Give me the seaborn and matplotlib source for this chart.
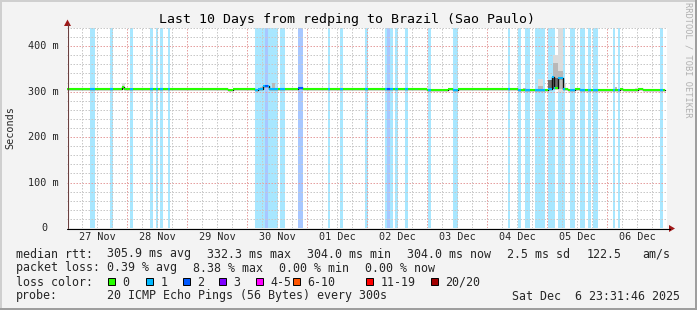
import matplotlib
matplotlib.use("Agg")
import matplotlib.pyplot as plt
import seaborn as sns
import pandas as pd
from matplotlib.patches import Rectangle, Polygon

W, H = 697, 310

# ---------------- data ----------------
title = "Last 10 Days from redping to Brazil (Sao Paulo)"
day_labels = ["27 Nov", "28 Nov", "29 Nov", "30 Nov", "01 Dec",
              "02 Dec", "03 Dec", "04 Dec", "05 Dec", "06 Dec"]
y_ticks_ms = [0, 100, 200, 300, 400]

# loss bands (hours since 27 Nov 00:00), pings lost out of 20
band_start = [9.2, 17.2, 25.2, 33.2, 35.6, 37.2, 40.4, 75.2, 79.2, 80.4, 85.2,
              92.4, 104.4, 109.2, 119.2, 127.2, 128.0, 129.2, 131.2, 135.2,
              144.4, 154.4, 176.4, 180.4, 183.2, 187.2, 192.4, 196.4, 201.2,
              205.2, 208.4, 210.4, 218.4, 220.4, 237.2]
band_end = [11.2, 18.4, 26.4, 34.4, 36.4, 38.4, 41.2, 79.2, 80.4, 84.4, 87.2,
            94.4, 105.2, 110.4, 120.4, 128.0, 129.2, 130.4, 132.4, 136.4,
            145.6, 156.4, 177.2, 181.6, 185.2, 191.2, 195.2, 199.2, 203.2,
            207.2, 209.6, 212.4, 219.2, 221.2, 238.4]
band_loss = [1, 1, 1, 1, 1, 1, 1, 1, 2, 1, 1,
             2, 1, 1, 1, 1, 2, 1, 1, 1,
             1, 1, 1, 1, 1, 1, 1, 1, 1,
             1, 1, 1, 1, 1, 1]

# median rtt steps (hour where step starts, value in ms)
med_start = [0.0, 22.0, 22.8, 64.4, 66.4, 75.2, 76.4, 78.4, 80.8, 92.4, 94.4,
             144.0, 152.4, 154.4, 156.4, 180.4, 192.4, 194.0, 194.8, 196.4,
             198.4, 200.4, 203.2, 205.2, 221.2, 222.4, 228.4, 230.4]
med_ms = [305.5, 311.0, 305.5, 303.6, 305.5, 303.6, 305.5, 311.5, 305.5, 307.0, 305.5,
          304.0, 305.5, 304.0, 305.5, 304.0, 306.0, 332.0, 308.0, 330.0,
          305.5, 304.0, 305.5, 304.0, 305.5, 304.0, 305.5, 304.0]
med_end = 239.2

# smoke (ping spread) blocks: start h, end h, low ms, high ms, density 1..3
smoke_start = [9.2, 13.2, 22.0, 25.2, 33.2, 41.2, 56.4, 73.2, 77.2, 82.0, 101.6,
               109.6, 182.4, 188.4, 188.4, 192.4, 194.4, 194.4, 194.4, 196.4,
               196.4, 198.4, 219.2, 227.2]
smoke_end = [11.2, 14.4, 23.2, 26.4, 34.4, 42.4, 58.4, 74.4, 78.4, 83.2, 102.8,
             110.4, 183.6, 190.4, 190.4, 194.0, 196.4, 196.4, 196.4, 198.4,
             198.4, 199.6, 220.0, 228.4]
smoke_lo = [305, 305, 305, 305, 305, 305, 305, 305, 305, 305, 305,
            305, 305, 305, 305, 305, 305, 305, 305, 300,
            305, 305, 305, 305]
smoke_hi = [309, 308, 318, 310, 309, 308, 309, 308, 310, 319, 308,
            313, 309, 328, 312, 325, 381, 363, 330, 440,
            345, 318, 310, 308]
smoke_dens = [2, 1, 1, 1, 1, 1, 1, 1, 2, 2, 1,
              1, 2, 1, 2, 3, 1, 2, 3, 1,
              2, 1, 2, 1]

loss_labels = ["0", "1", "2", "3", "4-5", "6-10", "11-19", "20/20"]
loss_colors = ["#26ff00", "#00b8ff", "#0059ff", "#7e00ff", "#ff00ff",
               "#ff5500", "#ff0000", "#a10000"]

stats_rtt = ["305.9 ms avg", "332.3 ms max", "304.0 ms min", "304.0 ms now",
             "2.5 ms sd", "122.5", "am/s"]
stats_loss = ["0.39 % avg", "8.38 % max", "0.00 % min", "0.00 % now"]
probe_text = "20 ICMP Echo Pings (56 Bytes) every 300s"
stamp = "Sat Dec  6 23:31:46 2025"

# ---------------- drawing ----------------
sns.set_theme(style="white")
plt.rcParams["font.family"] = ["DejaVu Sans Mono"]

fig = plt.figure(figsize=(W / 100, H / 100), dpi=100, facecolor="#f3f3f3")
X0, X1, YB, YT = 67, 667, 228, 28
ax = fig.add_axes([X0 / W, 1 - YB / H, (X1 - X0) / W, (YB - YT) / H])
ax.set_facecolor("white")
for s in ax.spines.values():
    s.set_visible(False)


def blend(hexc, a):
    r, g, b = (int(hexc[i:i + 2], 16) for i in (1, 3, 5))
    return ((255 - (255 - r) * a) / 255, (255 - (255 - g) * a) / 255,
            (255 - (255 - b) * a) / 255)


# loss bands
for s, e, l in zip(band_start, band_end, band_loss):
    ax.axvspan(s, e, color=blend(loss_colors[l], 0.34), lw=0, zorder=1)

# grid
px = 0.72
for v in range(20, 441, 20):
    major = v % 100 == 0
    ax.axhline(v, color="#e6a0a0" if major else "#c8c8c8", lw=px,
               ls=(0, (1.5, 1.5)), zorder=2)
for h in range(6, 240, 6):
    major = h % 24 == 0
    ax.axvline(h, color="#e6a0a0" if major else "#c8c8c8", lw=px,
               ls=(0, (1.5, 1.5)), zorder=2)

# smoke
shade = {1: "#dcdcdc", 2: "#b8b8b8", 3: "#707070"}
order = sorted(range(len(smoke_start)), key=lambda i: smoke_dens[i])
for i in order:
    ax.add_patch(Rectangle((smoke_start[i], smoke_lo[i]),
                           smoke_end[i] - smoke_start[i],
                           smoke_hi[i] - smoke_lo[i],
                           color=shade[smoke_dens[i]], lw=0, zorder=3))

# median: thin dark step line, then loss-coloured segments
df = pd.DataFrame({"h": med_start + [med_end], "ms": med_ms + [med_ms[-1]]})
sns.lineplot(data=df, x="h", y="ms", drawstyle="steps-post", color="#111111",
             lw=1.0, ax=ax, zorder=4, estimator=None, sort=False)


def median_at(t):
    v = med_ms[0]
    for s, m in zip(med_start, med_ms):
        if s <= t:
            v = m
    return v


def loss_at(t):
    for s, e, l in zip(band_start, band_end, band_loss):
        if s <= t < e:
            return l
    return 0


cuts = sorted(set([t for t in med_start + band_start + band_end + [med_end]
                   if 0 <= t <= med_end]))
for a, b in zip(cuts[:-1], cuts[1:]):
    m = (a + b) / 2
    ax.hlines(median_at(m), a, b, color=loss_colors[loss_at(m)], lw=1.5,
              zorder=5, capstyle="butt")

ax.set_xlim(0, 240)
ax.set_ylim(0, 440)
ax.set_xticks([])
ax.set_yticks([])
ax.set_xlabel("")
ax.set_ylabel("")

# overlay in pixel coordinates
ov = fig.add_axes([0, 0, 1, 1])
ov.set_xlim(0, W)
ov.set_ylim(H, 0)
ov.axis("off")
ov.patch.set_alpha(0)

# frame shading
ov.add_patch(Rectangle((0, 0), W, 2, color="#cfcfcf", lw=0))
ov.add_patch(Rectangle((0, 0), 2, H, color="#cfcfcf", lw=0))
ov.add_patch(Rectangle((0, H - 2), W, 2, color="#9e9e9e", lw=0))
ov.add_patch(Rectangle((W - 2, 0), 2, H, color="#9e9e9e", lw=0))

# axes lines and arrows
ov.plot([X0, 670], [YB + 0.5, YB + 0.5], color="#000000", lw=0.8)
ov.plot([X0 + 0.5, X0 + 0.5], [YB, 24], color="#6b4040", lw=0.8)
ov.add_patch(Polygon([[669, 225], [669, 232], [675, 228.5]], color="#a01818", lw=0))
ov.add_patch(Polygon([[64, 26], [71, 26], [67.5, 19.5]], color="#a01818", lw=0))

# title and watermark
ov.text(347, 19, title, ha="center", va="center", fontsize=9.5, color="#000000")
ov.text(688, 60, "RRDTOOL / TOBI OETIKER", rotation=-90, ha="center", va="center",
        fontsize=6.2, color="#b0b0b0")
ov.text(10, 128, "Seconds", rotation=90, ha="center", va="center", fontsize=7.3)

# tick labels
for k, lab in enumerate(day_labels):
    ov.text(X0 + 30 + 60 * k, 237.5, lab, ha="center", va="center", fontsize=7.3)
for v in y_ticks_ms:
    yy = YB - v * (YB - YT) / 440
    if v == 0:
        ov.text(47, yy, "0", ha="right", va="center", fontsize=7.3)
    else:
        ov.text(58.5, yy, f"{v} m", ha="right", va="center", fontsize=7.3)

# legend
fs = 8.4
ov.text(16, 254, "median rtt:", ha="left", va="center", fontsize=fs)
for x, s in zip([107, 207, 307, 407, 507, 587, 642], stats_rtt):
    ov.text(x, 254, s, ha="left", va="center", fontsize=fs)
ov.text(16, 268, "packet loss:", ha="left", va="center", fontsize=fs)
for x, s in zip([107, 193, 279, 365], stats_loss):
    ov.text(x, 268, s, ha="left", va="center", fontsize=fs)
ov.text(16, 282, "loss color:", ha="left", va="center", fontsize=fs)
box_x = [108, 146, 183, 219, 256, 293, 366, 431]
for x, lab, c in zip(box_x, loss_labels, loss_colors):
    ov.add_patch(Rectangle((x, 278), 7, 7, facecolor=c, edgecolor="#000000", lw=0.7))
    ov.text(x + 14.5, 282, lab, ha="left", va="center", fontsize=fs)
ov.text(16, 296, "probe:", ha="left", va="center", fontsize=fs)
ov.text(107, 296, probe_text, ha="left", va="center", fontsize=fs)
ov.text(680, 296, stamp, ha="right", va="center", fontsize=fs)

fig.savefig("out.png", dpi=100, facecolor=fig.get_facecolor())
